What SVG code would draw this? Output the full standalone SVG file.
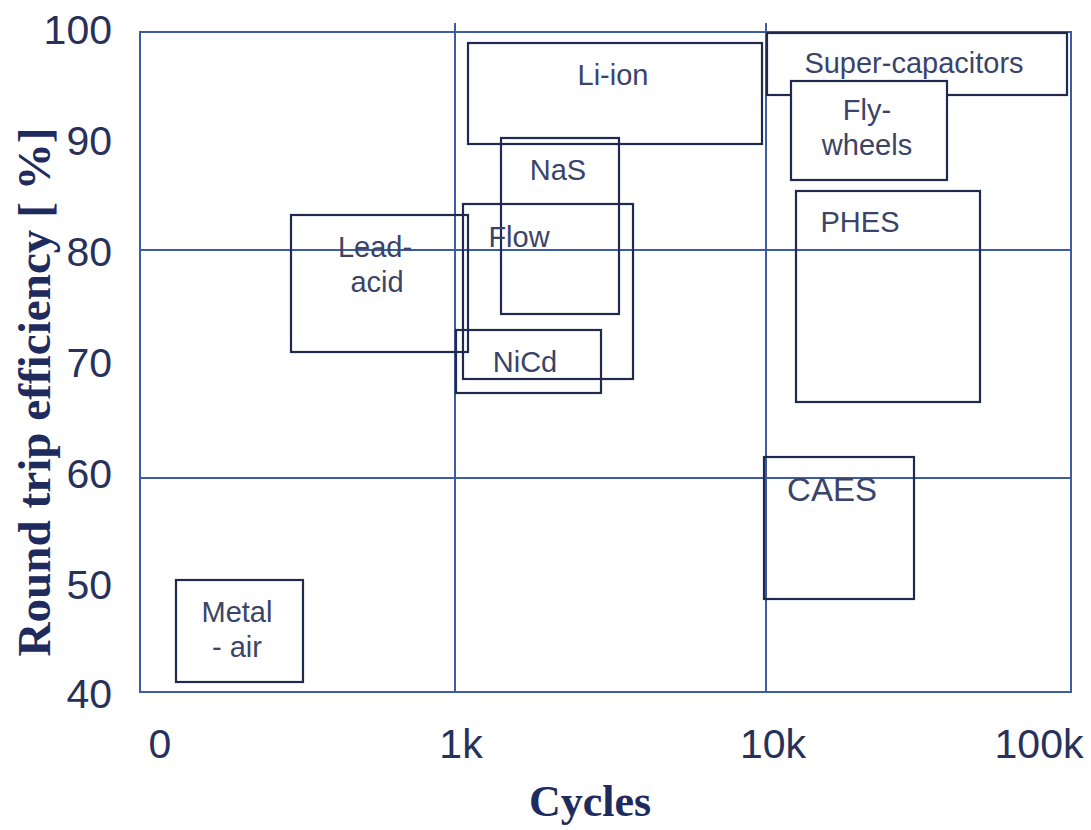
<svg xmlns="http://www.w3.org/2000/svg" width="1091" height="830" viewBox="0 0 1091 830">
<style>
.grid{stroke:#3d5ca6;stroke-width:2;fill:none}
.box{stroke:#1f2a4e;stroke-width:2.2;fill:none}
.tick{font-family:"Liberation Sans",Arial,sans-serif;font-size:41px;fill:#27315a}
.lbl{font-family:"Liberation Sans",Arial,sans-serif;font-size:29px;fill:#3b4468;text-anchor:middle}
.title{font-family:"Liberation Serif","Times New Roman",serif;font-weight:bold;fill:#1f2b5c;text-anchor:middle}
</style>
<rect width="1091" height="830" fill="#ffffff"/>
<g id="axes">
<rect class="grid" x="140" y="32" width="931" height="660"/>
<line class="grid" x1="455" y1="23" x2="455" y2="692"/>
<line class="grid" x1="766" y1="23" x2="766" y2="692"/>
<line class="grid" x1="140" y1="250" x2="1071" y2="250"/>
<line class="grid" x1="140" y1="478" x2="1071" y2="478"/>
<g class="tick" text-anchor="end">
<text x="112" y="44">100</text>
<text x="112" y="155">90</text>
<text x="112" y="266">80</text>
<text x="112" y="377">70</text>
<text x="112" y="488">60</text>
<text x="112" y="599">50</text>
<text x="112" y="708">40</text>
</g>
<g class="tick" text-anchor="middle">
<text x="160" y="758">0</text>
<text x="461" y="758">1k</text>
<text x="773" y="758">10k</text>
<text x="1039" y="758">100k</text>
</g>
<text class="title" x="590" y="816" font-size="44">Cycles</text>
<text class="title" font-size="47" transform="translate(50,392) rotate(-90)" textLength="529" lengthAdjust="spacingAndGlyphs">Round trip efficiency [ %]</text>
</g>
<g id="li-ion"><rect class="box" x="468" y="43" width="294" height="101"/><text class="lbl" x="613" y="85">Li-ion</text></g>
<g id="super-capacitors"><rect class="box" x="767" y="33" width="300" height="62"/><text class="lbl" x="914" y="73">Super-capacitors</text></g>
<g id="flywheels"><rect class="box" x="791" y="81" width="156" height="99" fill="#ffffff" style="fill:#ffffff"/><text class="lbl" x="867" y="120">Fly-</text><text class="lbl" x="867" y="155">wheels</text></g>
<g id="phes"><rect class="box" x="796" y="191" width="184" height="211"/><text class="lbl" x="860" y="232">PHES</text></g>
<g id="nas"><rect class="box" x="501" y="138" width="118" height="176"/><text class="lbl" x="558" y="180">NaS</text></g>
<g id="flow"><rect class="box" x="463" y="204" width="170" height="175"/><text class="lbl" x="519" y="247">Flow</text></g>
<g id="lead-acid"><rect class="box" x="291" y="215" width="177" height="137"/><text class="lbl" x="375" y="257">Lead-</text><text class="lbl" x="377" y="292">acid</text></g>
<g id="nicd"><rect class="box" x="456" y="330" width="145" height="63"/><text class="lbl" x="525" y="372">NiCd</text></g>
<g id="caes"><rect class="box" x="764" y="457" width="150" height="142"/><text class="lbl" x="832" y="501" style="font-size:33px">CAES</text></g>
<g id="metal-air"><rect class="box" x="176" y="580" width="127" height="102"/><text class="lbl" x="237" y="622">Metal</text><text class="lbl" x="237" y="657">- air</text></g>
</svg>
